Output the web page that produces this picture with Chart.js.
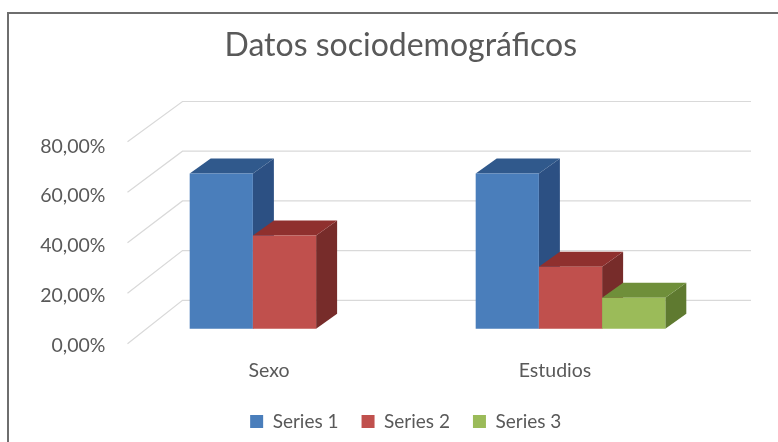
<!DOCTYPE html>
<html lang="es">
<head>
    <meta charset="UTF-8">
    <title>Datos sociodemográficos</title>
    <script src="https://cdn.jsdelivr.net/npm/chart.js"></script>
    <style>
        html, body { margin: 0; background: #fff; overflow: hidden; }
        #frame {
            position: absolute;
            left: 7px;
            top: 12px;
            width: 771px;
            height: 430px;
            border-top: 2px solid #6e6e6e;
            border-left: 2px solid #6e6e6e;
        }
        #chart {
            position: absolute;
            left: 0;
            top: 0;
            filter: blur(0.6px);
        }
    </style>
</head>
<body>
    <div id="frame"></div>
    <canvas id="chart" width="778" height="442"></canvas>

    <script>
        const categories = ['Sexo', 'Estudios'];
        const series1 = [62.5, 62.5];
        const series2 = [37.5, 25];
        const series3 = [null, 12.5];
        const seriesNames = ['Series 1', 'Series 2', 'Series 3'];

        const frontColors = ['#4a7ebb', '#c0504d', '#9bbb59'];
        const topColors = ['#30598c', '#8f302e', '#6f8f3a'];
        const sideColors = ['#2c5083', '#772c2a', '#5f7a30'];

        // how far the bars and the walls are pushed back in the fake 3D
        const barDepth = { x: 21, y: -15 };
        const wallBack = { x: 41, y: -28.5 };
        const wallFront = { x: -14, y: 15 };
        const wallRight = 751;

        function polygon(ctx, points, color) {
            ctx.fillStyle = color;
            ctx.beginPath();
            points.forEach((p, i) => i ? ctx.lineTo(p[0], p[1]) : ctx.moveTo(p[0], p[1]));
            ctx.closePath();
            ctx.fill();
        }

        // back wall and side wall gridlines, behind the bars
        const wallPlugin = {
            id: 'walls',
            beforeDatasetsDraw(chart) {
                const { ctx, chartArea, scales } = chart;
                ctx.save();
                ctx.strokeStyle = '#d9d9d9';
                ctx.lineWidth = 1.2;
                scales.y.ticks.forEach(tick => {
                    const y = scales.y.getPixelForValue(tick.value);
                    ctx.beginPath();
                    ctx.moveTo(chartArea.left + wallFront.x, y + wallFront.y - tick.value * 0.04);
                    ctx.lineTo(chartArea.left + wallBack.x, y + wallBack.y);
                    ctx.lineTo(wallRight, y + wallBack.y);
                    ctx.stroke();
                });
                ctx.restore();
            }
        };

        // each bar gets its top and side first, then the front, series by series
        const barsPlugin = {
            id: 'bars3d',
            beforeDatasetDraw() {
                return false;
            },
            afterDatasetsDraw(chart) {
                const { ctx } = chart;
                const dx = barDepth.x, dy = barDepth.y;
                chart.data.datasets.forEach((ds, i) => {
                    chart.getDatasetMeta(i).data.forEach((bar, j) => {
                        if (ds.data[j] === null) return;
                        const left = bar.x - bar.width / 2;
                        const right = bar.x + bar.width / 2;
                        polygon(ctx, [[right, bar.y], [right + dx, bar.y + dy], [right + dx, bar.base + dy], [right, bar.base]], sideColors[i]);
                        polygon(ctx, [[left, bar.y], [left + dx, bar.y + dy], [right + dx, bar.y + dy], [right, bar.y]], topColors[i]);
                        bar.draw(ctx);
                    });
                });
            }
        };

        // title and legend are not centred on the plot, so nudge their boxes
        const shiftPlugin = {
            id: 'boxShift',
            afterLayout(chart) {
                chart.titleBlock.left += 32;
                chart.titleBlock.right += 32;
                chart.legend.left += 37;
                chart.legend.right += 37;
                chart.legend.top -= 1;
                chart.legend.bottom -= 1;
                chart.legend.adjustHitBoxes();
            }
        };

        new Chart(document.getElementById('chart'), {
            type: 'bar',
            data: {
                labels: categories,
                datasets: [series1, series2, series3].map((values, i) => ({
                    label: seriesNames[i],
                    data: values,
                    backgroundColor: frontColors[i],
                    borderWidth: 0,
                    barPercentage: 1,
                    categoryPercentage: 0.663
                }))
            },
            options: {
                responsive: false,
                animation: false,
                layout: { padding: { left: 24, right: 64.5 } },
                scales: {
                    x: {
                        afterFit(scale) { scale.height = 61.2; },
                        grid: { display: false },
                        border: { display: false },
                        ticks: {
                            color: '#595959',
                            font: { family: 'Lato', size: 19.5 },
                            padding: 22,
                            labelOffset: -15.5
                        }
                    },
                    y: {
                        min: 0,
                        max: 80,
                        afterFit(scale) { scale.width = 117.5; },
                        grid: { display: false },
                        border: { display: false },
                        ticks: {
                            stepSize: 20,
                            color: '#595959',
                            font: { family: 'Lato', size: 19.5 },
                            padding: 28,
                            labelOffset: 16.5,
                            callback: value => value.toFixed(2).replace('.', ',') + '%'
                        }
                    }
                },
                plugins: {
                    title: {
                        display: true,
                        text: 'Datos sociodemográficos',
                        color: '#595959',
                        font: { family: 'Lato', size: 32, weight: 'normal' },
                        padding: { top: 26, bottom: 65.6 }
                    },
                    legend: {
                        position: 'bottom',
                        labels: {
                            color: '#595959',
                            font: { family: 'Lato', size: 19 },
                            boxWidth: 13,
                            boxHeight: 13,
                            padding: 23
                        }
                    },
                    tooltip: { enabled: false }
                }
            },
            plugins: [wallPlugin, barsPlugin, shiftPlugin]
        });
    </script>
</body>
</html>
